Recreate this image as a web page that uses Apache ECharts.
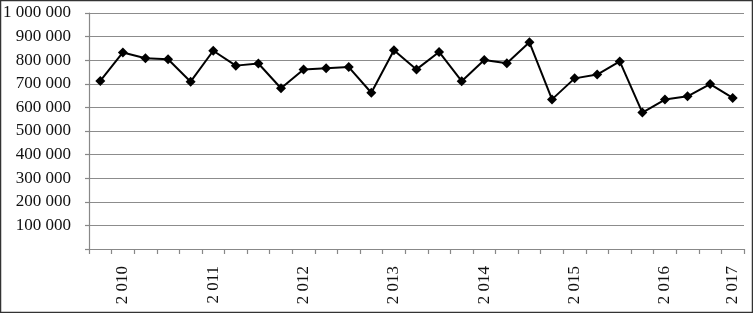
<!DOCTYPE html>
<html><head><meta charset="utf-8">
<script src="https://cdn.jsdelivr.net/npm/echarts@6/dist/echarts.min.js"></script>
<style>html,body{margin:0;padding:0;background:#fff}#c{width:753px;height:313px}</style>
</head><body><div id="c"></div>
<script>
// 29 consecutive periods (quarterly), year label shown at selected periods
const periods = ['1','2','3','4','5','6','7','8','9','10','11','12','13','14','15','16','17','18','19','20','21','22','23','24','25','26','27','28','29'];
const tickLabels = ['','2 010','','','','2 011','','','','2 012','','','','2 013','','','','2 014','','','','2 015','','','','2 016','','','2 017'];
const values = [712000,833000,808000,804000,709000,840000,777000,786000,681000,761000,766000,771000,662000,842000,761000,835000,711000,801000,787000,876000,634000,723000,739000,795000,578000,633000,647000,699000,640000];
const yTicks = {min:0, max:1000000, interval:100000};

const fmt = v => v === 0 ? '' : String(v).replace(/\B(?=(\d{3})+(?!\d))/g, ' ');
const chart = echarts.init(document.getElementById('c'));
chart.setOption({
  animation:false,
  backgroundColor:'#fff',
  textStyle:{fontFamily:'Liberation Serif'},
  grid:{left:88,right:9,top:13,bottom:64,containLabel:false},
  graphic:[{type:'rect',shape:{x:0.5,y:0.5,width:752,height:312},style:{fill:'none',stroke:'#333',lineWidth:1.5},silent:true,z:100}],
  xAxis:{type:'category',data:periods,boundaryGap:true,
    axisLine:{lineStyle:{color:'#888',width:1.2}},
    axisTick:{show:true,interval:0,length:5,lineStyle:{color:'#888',width:1.2}},
    axisLabel:{interval:0,rotate:90,margin:17,fontSize:17,color:'#111',fontFamily:'Liberation Serif',
      formatter:(v,i)=>tickLabels[i]},
    splitLine:{show:false}},
  yAxis:{type:'value',min:yTicks.min,max:yTicks.max,interval:yTicks.interval,
    axisLine:{show:true,lineStyle:{color:'#888',width:1.2}},
    axisTick:{show:true,length:4,lineStyle:{color:'#888',width:1.2}},
    axisLabel:{margin:18,fontSize:17,color:'#111',fontFamily:'Liberation Serif',formatter:fmt},
    splitLine:{show:true,lineStyle:{color:'#8c8c8c',width:1.2}}},
  series:[{type:'line',data:values,symbol:'diamond',symbolSize:10,
    lineStyle:{color:'#000',width:2},itemStyle:{color:'#000'}}]
});
</script></body></html>
